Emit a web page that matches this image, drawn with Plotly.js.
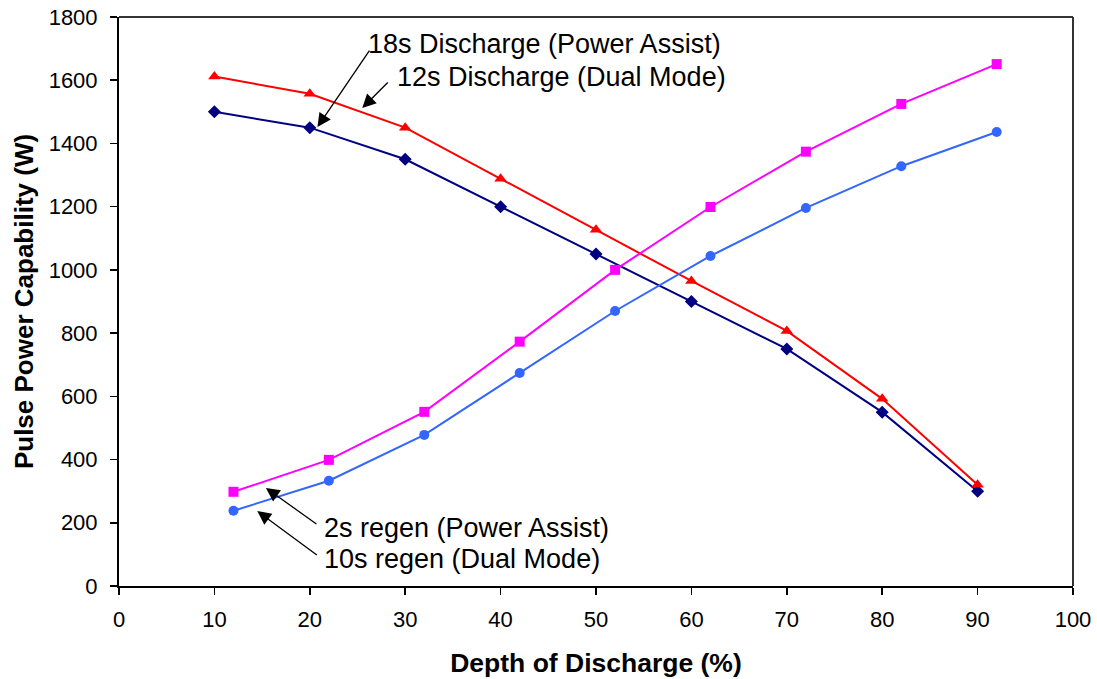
<!DOCTYPE html>
<html>
<head>
<meta charset="utf-8">
<script src="https://cdn.plot.ly/plotly-3.0.1.min.js"></script>
<style>html,body{margin:0;padding:0;background:#fff;}#chart{width:1097px;height:679px;}</style>
</head>
<body>
<div id="chart"></div>
<script>
// Discharge series (x = depth of discharge %)
const dischargeX = [10, 20, 30, 40, 50, 60, 70, 80, 90];
const discharge18s = [1500, 1450, 1350, 1200, 1050, 900, 750, 550, 300];
const discharge12s = [1612, 1557, 1450, 1288, 1127, 965, 807, 592, 320];
// Regen series
const regenX = [12, 22, 32, 42, 52, 62, 72, 82, 92];
const regen2s = [298, 399, 551, 773, 1000, 1199, 1374, 1525, 1651];
const regen10s = [238, 333, 478, 674, 870, 1044, 1196, 1328, 1436];

const xTicks = [0, 10, 20, 30, 40, 50, 60, 70, 80, 90, 100];
const yTicks = [0, 200, 400, 600, 800, 1000, 1200, 1400, 1600, 1800];

const FONT = '"Liberation Sans", Arial, sans-serif';

const traces = [
  {x: dischargeX, y: discharge18s, mode: 'lines+markers', name: '18s Discharge (Power Assist)',
   line: {color: '#000080', width: 2}, marker: {symbol: 'diamond', size: 10, color: '#000080'}},
  {x: dischargeX, y: discharge12s, mode: 'lines+markers', name: '12s Discharge (Dual Mode)',
   line: {color: '#FF0000', width: 2}, marker: {symbol: 'triangle-up', size: 11, color: '#FF0000'}},
  {x: regenX, y: regen2s, mode: 'lines+markers', name: '2s regen (Power Assist)',
   line: {color: '#FF00FF', width: 2}, marker: {symbol: 'square', size: 10, color: '#FF00FF'}},
  {x: regenX, y: regen10s, mode: 'lines+markers', name: '10s regen (Dual Mode)',
   line: {color: '#3366FF', width: 2}, marker: {symbol: 'circle', size: 10, color: '#3366FF'}}
];

function arrow(x, y, ax, ay) {
  return {x: x, y: y, xref: 'x', yref: 'y', ax: ax, ay: ay, showarrow: true,
          arrowhead: 2, arrowsize: 2.1, arrowwidth: 1.3, arrowcolor: '#000', text: ''};
}
function label(x, y, t) {
  return {x: x, y: y, xref: 'x', yref: 'y', text: t, showarrow: false,
          xanchor: 'left', yanchor: 'middle', font: {family: FONT, size: 27, color: '#000'}};
}

const layout = {
  width: 1097, height: 679,
  margin: {l: 119, r: 24, t: 17, b: 93},
  paper_bgcolor: '#fff', plot_bgcolor: '#fff',
  showlegend: false,
  font: {family: FONT, color: '#000'},
  xaxis: {
    range: [0, 100], tickvals: xTicks, ticks: 'outside', ticklen: 7, tickwidth: 1.5, tickcolor: '#000',
    showgrid: false, zeroline: false, showline: true, linecolor: '#000', linewidth: 2, mirror: false,
    tickfont: {family: FONT, size: 22, color: '#000'}, ticklabelstandoff: 6,
    title: {text: '<b>Depth of Discharge (%)</b>', font: {family: FONT, size: 26.5, color: '#000'}, standoff: 22}
  },
  yaxis: {
    range: [0, 1800], tickvals: yTicks, ticks: 'outside', ticklen: 7, tickwidth: 1.5, tickcolor: '#000',
    showgrid: false, zeroline: false, showline: true, linecolor: '#000', linewidth: 2,
    tickfont: {family: FONT, size: 22, color: '#000'}, ticklabelstandoff: 8,
    title: {text: '<b>Pulse Power Capability (W)</b>', font: {family: FONT, size: 26, color: '#000'}, standoff: 8}
  },
  shapes: [
    {type: 'line', xref: 'paper', yref: 'paper', x0: 0, x1: 1, y0: 1, y1: 1, line: {color: '#333', width: 2}},
    {type: 'line', xref: 'paper', yref: 'paper', x0: 1, x1: 1, y0: 0, y1: 1, line: {color: '#333', width: 2}}
  ],
  annotations: [
    arrow(20.8, 1452, 53, -78),
    arrow(25.5, 1512, 27, -27),
    arrow(15.4, 310, 52, 37),
    arrow(14.5, 237, 61, 45),
    label(25.9, 1715, '18s Discharge (Power Assist)'),
    label(28.9, 1610, '12s Discharge (Dual Mode)'),
    label(21.3, 185, '2s regen (Power Assist)'),
    label(21.3, 86, '10s regen (Dual Mode)')
  ]
};

Plotly.newPlot('chart', traces, layout, {displayModeBar: false, staticPlot: true});
</script>
</body>
</html>
